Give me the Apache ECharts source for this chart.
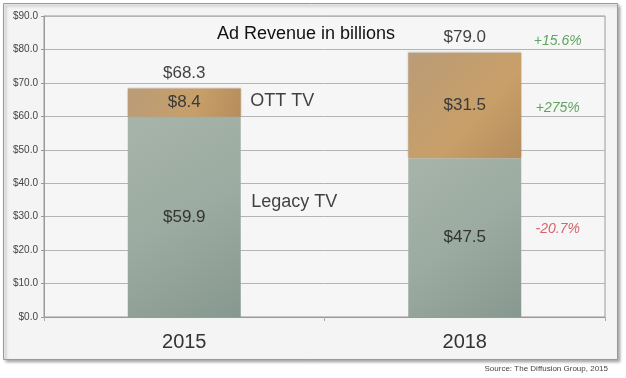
<!DOCTYPE html>
<html><head><meta charset="utf-8">
<script src="https://cdn.jsdelivr.net/npm/echarts@6/dist/echarts.min.js"></script>
<style>html,body{margin:0;padding:0;background:#fff}#c{width:626px;height:378px}</style>
</head><body><div id="c"></div>
<script>
var categories = ['2015', '2018'];
var legacyTV = [59.9, 47.5];
var ottTV = [8.4, 31.5];
var totals = [68.3, 79.0];
var changeTotal = '+15.6%';
var changeOTT = '+275%';
var changeLegacy = '-20.7%';
var yTicks = [0, 10, 20, 30, 40, 50, 60, 70, 80, 90];

var FONT = 'Liberation Sans, Arial, sans-serif';
var chart = echarts.init(document.getElementById('c'), null, {renderer: 'canvas'});

var legacyGrad = new echarts.graphic.LinearGradient(0, 0, 1, 1, [
  {offset: 0, color: '#a6b4aa'}, {offset: 0.5, color: '#9cab a1'.replace(' ', '')}, {offset: 1, color: '#879890'}]);
var ottGrad = new echarts.graphic.LinearGradient(0, 0, 1, 1, [
  {offset: 0, color: '#ba9c78'}, {offset: 0.6, color: '#c89f68'}, {offset: 1, color: '#b58d5c'}]);

var annotations = [
  {value: [1, totals[1]], text: changeTotal, color: '#3a8f3a', offset: [93, -12]},
  {value: [1, legacyTV[1] + ottTV[1] / 2], text: changeOTT, color: '#3a8f3a', offset: [93, 3]},
  {value: [1, legacyTV[1] / 2], text: changeLegacy, color: '#cc3f4a', offset: [93, -8]},
  {value: [0, legacyTV[0] + ottTV[0] / 2], text: 'OTT TV', color: '#111', offset: [98, -2], size: 18},
  {value: [0, legacyTV[0] / 2], text: 'Legacy TV', color: '#111', offset: [110, -15], size: 18}
];

var option = {
  animation: false,
  backgroundColor: '#ffffff',
  graphic: [{
    type: 'rect', z: -10, silent: true,
    shape: {x: 3.5, y: 3.5, width: 614, height: 356},
    style: {fill: '#f4f4f4', stroke: '#9a9a9a', lineWidth: 1,
      shadowColor: 'rgba(0,0,0,0.35)', shadowBlur: 3, shadowOffsetX: 2, shadowOffsetY: 2}
  }, {
    type: 'text', silent: true,
    style: {text: 'Source: The Diffusion Group, 2015', x: 608, y: 369, align: 'right', verticalAlign: 'middle',
      font: '8px ' + FONT, fill: '#444'}
  }],
  title: {
    text: 'Ad Revenue in billions', left: 301, top: 20, textAlign: 'center',
    textStyle: {fontFamily: FONT, fontSize: 18, fontWeight: 'normal', color: '#111'}
  },
  grid: {left: 44, right: 21, top: 16, bottom: 61, show: true, backgroundColor: '#f6f6f6',
    borderColor: '#9a9a9a', borderWidth: 1},
  xAxis: [{
    type: 'category', data: categories,
    axisLine: {lineStyle: {color: '#999'}},
    axisTick: {show: true, length: 4, lineStyle: {color: '#aaa'}},
    axisLabel: {fontFamily: FONT, fontSize: 20, color: '#333', margin: 15}
  }, {
    type: 'value', min: -0.5, max: 1.5, show: false
  }],
  yAxis: {
    type: 'value', min: 0, max: 90, interval: 10,
    axisLine: {show: true, onZero: false, lineStyle: {color: '#999'}},
    axisTick: {show: true, length: 3, lineStyle: {color: '#999'}},
    splitLine: {lineStyle: {color: '#b4b4b4'}},
    axisLabel: {fontFamily: FONT, fontSize: 10, color: '#444', margin: 6,
      formatter: function (v) { return yTicks.indexOf(v) >= 0 ? '$' + v.toFixed(1) : ''; }}
  },
  series: [{
    name: 'Legacy TV', type: 'bar', stack: 'tv', barWidth: 113,
    data: legacyTV,
    itemStyle: {color: legacyGrad},
    label: {show: true, position: 'inside', fontFamily: FONT, fontSize: 17, color: '#333',
      formatter: function (p) { return '$' + p.value.toFixed(1); }}
  }, {
    name: 'OTT TV', type: 'bar', stack: 'tv', barWidth: 113,
    data: ottTV,
    itemStyle: {color: ottGrad, shadowColor: 'rgba(0,0,0,0.2)', shadowBlur: 2, shadowOffsetY: -1},
    label: {show: true, position: 'inside', fontFamily: FONT, fontSize: 17, color: '#3a3a3a',
      formatter: function (p) { return '$' + p.value.toFixed(1); }}
  }, {
    name: 'Total', type: 'scatter', symbolSize: 0, data: totals,
    label: {show: true, position: 'top', distance: 7, fontFamily: FONT, fontSize: 17, color: '#111',
      formatter: function (p) { return '$' + p.value.toFixed(1); }}
  }, {
    name: 'Notes', type: 'scatter', symbolSize: 0, xAxisIndex: 1,
    data: annotations.map(function (a) {
      return {value: a.value, label: {show: true, position: 'inside', offset: a.offset,
        formatter: a.text, color: a.color, fontFamily: FONT,
        fontSize: a.size || 14, fontStyle: a.size ? 'normal' : 'italic'}};
    })
  }]
};
chart.setOption(option);
</script></body></html>
